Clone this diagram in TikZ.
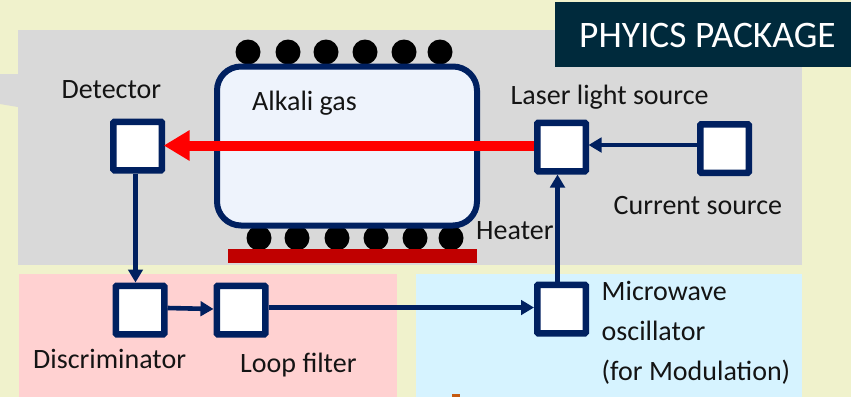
\documentclass[tikz,border=0pt]{standalone}
\usepackage{fontspec}
\setmainfont{Carlito}
\usetikzlibrary{arrows.meta}
\definecolor{bgc}{HTML}{F0F2CC}
\definecolor{grayc}{HTML}{D9D9D9}
\definecolor{pinkc}{HTML}{FFD1D1}
\definecolor{bluec}{HTML}{D6F3FF}
\definecolor{navyc}{HTML}{002060}
\definecolor{cellc}{HTML}{EEF3FC}
\definecolor{titlec}{HTML}{002A3C}
\definecolor{heatc}{HTML}{C00000}
\definecolor{orangec}{HTML}{C55A11}
\tikzset{
  blockbox/.style={draw=navyc,fill=white,line width=6.5pt,rounded corners=1pt,minimum size=48.5pt,inner sep=0pt,outer sep=3.25pt},
  lab/.style={anchor=base west,inner sep=0pt,font=\fontsize{28}{28}\selectfont,text=black!92},
  conn/.style={draw=navyc,line width=4.6pt,-{Triangle[length=13pt,width=14.5pt]}},
  atom/.style={circle,fill=black,minimum size=25pt,inner sep=0pt}
}
\begin{document}
\begin{tikzpicture}[x=1pt,y=-1pt]
\useasboundingbox (0,0) rectangle (851,397);
\fill[bgc] (0,0) rectangle (851,397);
\fill[grayc] (0,74) -- (18,74) -- (18,107) -- (0,104) -- cycle;
\fill[grayc] (18,30) rectangle (802,265);
\fill[pinkc] (19,274) rectangle (397,397);
\fill[bluec] (416,274) rectangle (802,397);
\fill[orangec] (452,394) rectangle (460,397);
\node[fill=titlec,text=white,minimum width=296pt,minimum height=65pt,inner sep=0pt,anchor=north west] (title) at (555,2) {};
\node[anchor=base west,inner sep=0pt,text=white,font=\fontsize{37.4}{37.4}\selectfont] (titletext) at (579,47) {PHYICS PACKAGE};
\foreach \i/\x in {1/248,2/288,3/326,4/365,5/404,6/440}
  \node[atom] (t\i) at (\x,52) {};
\foreach \i/\x in {1/259,2/297,3/337,4/376,5/415,6/451}
  \node[atom] (b\i) at (\x,238) {};
\node[draw=navyc,fill=cellc,line width=6pt,rounded corners=24pt,minimum width=260pt,minimum height=159pt,inner sep=0pt] (cell) at (347,146) {};
\node[fill=heatc,minimum width=249pt,minimum height=14pt,inner sep=0pt] (heater) at (352.5,256) {};
\node[blockbox] (det) at (137.7,146) {};
\node[blockbox] (laser) at (561.5,147) {};
\node[blockbox] (cur) at (724.5,148.5) {};
\node[blockbox] (disc) at (140,310) {};
\node[blockbox] (loop) at (241,310) {};
\node[blockbox] (mw) at (561.5,309) {};
\draw[draw=red,line width=10pt,-{Triangle[length=26pt,width=29pt]}] ([yshift=1.5pt]laser.west) -- ([xshift=-1.5pt,yshift=.5pt]det.east);
\draw[conn] ([yshift=3.5pt]cur.west) -- ([xshift=-.5pt,yshift=2pt]laser.east);
\draw[conn] ([xshift=-2.2pt]det.south) -- ([xshift=-4.5pt]disc.north);
\draw[conn] ([yshift=2pt]disc.east) -- ([yshift=1pt]loop.west);
\draw[conn] ([yshift=2.5pt]loop.east) -- ([yshift=1.5pt]mw.west);
\draw[conn] ([xshift=-4pt]mw.north) -- ([xshift=-4pt]laser.south);
\node[lab] (ldet) at (61.5,98) {Detector};
\node[lab] (lgas) at (252,110) {Alkali gas};
\node[lab] (llaser) at (510.5,104) {Laser light source};
\node[lab] (lcur) at (613.5,214) {Current source};
\node[lab] (lheat) at (476,239) {Heater};
\node[lab] (lmw1) at (601.5,300.5) {Microwave};
\node[lab] (lmw2) at (601.5,340.5) {oscillator};
\node[lab] (lmw3) at (601.5,380.5) {(for Modulation)};
\node[lab] (ldisc) at (33,368) {Discriminator};
\node[lab] (lloop) at (240,372) {Loop filter};
\end{tikzpicture}
\end{document}
